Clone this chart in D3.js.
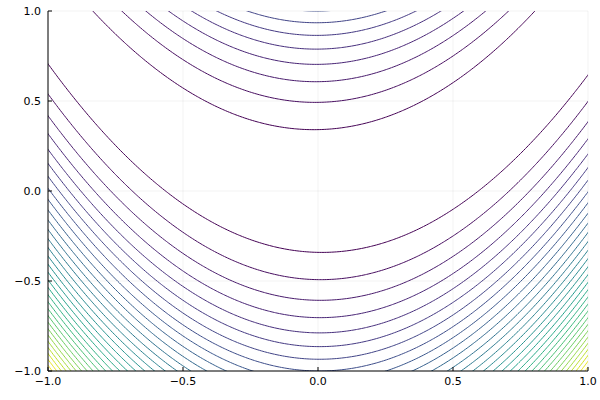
<!DOCTYPE html>
<html><head><meta charset="utf-8">
<script src="https://cdn.jsdelivr.net/npm/d3@7"></script>
<style>body{margin:0;background:#fff}svg{display:block}</style>
</head><body>
<script>
// Contour levels of the Rosenbrock surface z = (1 - x)² + 100 (y - x²)²
const levels = [12.625, 25.25, 37.875, 50.5, 63.125, 75.75, 88.375, 101, 113.625, 126.25,
  138.875, 151.5, 164.125, 176.75, 189.375, 202, 214.625, 227.25, 239.875, 252.5,
  265.125, 277.75, 290.375, 303, 315.625, 328.25, 340.875, 353.5, 366.125, 378.75, 391.375];
const xTicks = [-1.0, -0.5, 0.0, 0.5, 1.0];
const yTicks = [-1.0, -0.5, 0.0, 0.5, 1.0];
const xDomain = [-1, 1], yDomain = [-1, 1];
const surface = (x, y) => (1 - x) * (1 - x) + 100 * (y - x * x) * (y - x * x);

const W = 600, H = 400;
const m = {l: 48, r: 12, t: 11, b: 29};
const svg = d3.select("body").append("svg").attr("width", W).attr("height", H);
const x = d3.scaleLinear().domain(xDomain).range([m.l, W - m.r]);
const y = d3.scaleLinear().domain(yDomain).range([H - m.b, m.t]);

// grid
const g = svg.append("g");
g.selectAll(".gx").data(xTicks).join("line")
  .attr("x1", d => x(d)).attr("x2", d => x(d)).attr("y1", m.t).attr("y2", H - m.b)
  .attr("stroke", "#000").attr("stroke-opacity", 0.1).attr("stroke-width", 0.5);
g.selectAll(".gy").data(yTicks).join("line")
  .attr("y1", d => y(d)).attr("y2", d => y(d)).attr("x1", m.l).attr("x2", W - m.r)
  .attr("stroke", "#000").attr("stroke-opacity", 0.1).attr("stroke-width", 0.5);

// sample surface on a grid extending beyond the domain; clip to plot area
const n = 240, ext = 0.1;
const gx0 = xDomain[0] - ext, gx1 = xDomain[1] + ext, gy0 = yDomain[0] - ext, gy1 = yDomain[1] + ext;
const vals = new Array(n * n);
for (let j = 0; j < n; j++) for (let i = 0; i < n; i++) {
  const xv = gx0 + (gx1 - gx0) * i / (n - 1);
  const yv = gy0 + (gy1 - gy0) * j / (n - 1);
  vals[j * n + i] = surface(xv, yv);
}
const contours = d3.contours().size([n, n]).thresholds(levels).smooth(true)(vals);
const gi = d3.scaleLinear().domain([0, n - 1]).range([x(gx0), x(gx1)]);
const gj = d3.scaleLinear().domain([0, n - 1]).range([y(gy0), y(gy1)]);
const proj = d3.geoTransform({point(px, py) { this.stream.point(gi(px - 0.5), gj(py - 0.5)); }});
const path = d3.geoPath(proj);
const lmin = d3.min(levels), lmax = d3.max(levels);
svg.append("clipPath").attr("id", "clip").append("rect")
  .attr("x", m.l).attr("y", m.t).attr("width", W - m.l - m.r).attr("height", H - m.t - m.b);
svg.append("g").attr("clip-path", "url(#clip)")
  .selectAll("path").data(contours).join("path")
  .attr("d", path).attr("fill", "none")
  .attr("stroke", d => d3.interpolateViridis((d.value - lmin) / (lmax - lmin)))
  .attr("stroke-width", 1);

// axes
const fmt = d => (d < 0 ? "\u2212" : "") + Math.abs(d).toFixed(1);
const ax = svg.append("g").attr("font-family", "DejaVu Sans, sans-serif").attr("font-size", 11);
ax.append("line").attr("x1", m.l).attr("x2", m.l).attr("y1", m.t).attr("y2", H - m.b).attr("stroke", "#000");
ax.append("line").attr("x1", m.l).attr("x2", W - m.r).attr("y1", H - m.b).attr("y2", H - m.b).attr("stroke", "#000");
ax.selectAll(".tx").data(xTicks).join("line")
  .attr("x1", d => x(d)).attr("x2", d => x(d)).attr("y1", H - m.b).attr("y2", H - m.b - 4).attr("stroke", "#000");
ax.selectAll(".ty").data(yTicks).join("line")
  .attr("y1", d => y(d)).attr("y2", d => y(d)).attr("x1", m.l).attr("x2", m.l + 4).attr("stroke", "#000");
ax.selectAll(".lx").data(xTicks).join("text")
  .attr("x", d => x(d)).attr("y", H - m.b + 14).attr("text-anchor", "middle").text(fmt);
ax.selectAll(".ly").data(yTicks).join("text")
  .attr("x", m.l - 7).attr("y", d => y(d) + 4).attr("text-anchor", "end").text(fmt);
</script>
</body></html>
